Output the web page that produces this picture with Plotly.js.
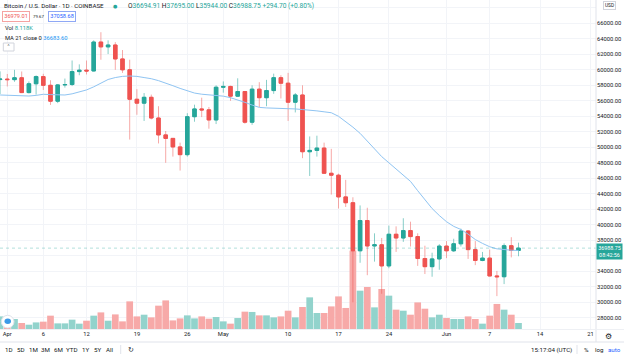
<!DOCTYPE html>
<html><head><meta charset="utf-8">
<script src="https://cdn.plot.ly/plotly-3.0.1.min.js"></script>
<style>html,body{margin:0;padding:0;background:#fff;} #chart{width:624px;height:358px;}</style>
</head><body><div id="chart"></div>
<script>
const dates = ['2021-03-31','2021-04-01','2021-04-02','2021-04-03','2021-04-04','2021-04-05','2021-04-06','2021-04-07','2021-04-08','2021-04-09','2021-04-10','2021-04-11','2021-04-12','2021-04-13','2021-04-14','2021-04-15','2021-04-16','2021-04-17','2021-04-18','2021-04-19','2021-04-20','2021-04-21','2021-04-22','2021-04-23','2021-04-24','2021-04-25','2021-04-26','2021-04-27','2021-04-28','2021-04-29','2021-04-30','2021-05-01','2021-05-02','2021-05-03','2021-05-04','2021-05-05','2021-05-06','2021-05-07','2021-05-08','2021-05-09','2021-05-10','2021-05-11','2021-05-12','2021-05-13','2021-05-14','2021-05-15','2021-05-16','2021-05-17','2021-05-18','2021-05-19','2021-05-20','2021-05-21','2021-05-22','2021-05-23','2021-05-24','2021-05-25','2021-05-26','2021-05-27','2021-05-28','2021-05-29','2021-05-30','2021-05-31','2021-06-01','2021-06-02','2021-06-03','2021-06-04','2021-06-05','2021-06-06','2021-06-07','2021-06-08','2021-06-09','2021-06-10','2021-06-11'];
const openP = [58740,58800,58730,58970,57060,58200,59120,58000,55950,58050,58100,59770,59950,59850,63580,62960,63200,61400,60000,56200,55700,56450,53780,51600,51150,50050,49050,53950,54950,54830,53530,57750,57850,56600,57200,53240,57500,56400,57320,58980,58270,55820,56750,49430,49600,49900,46650,46400,43600,42850,36650,40550,37270,37420,34700,38780,38300,39250,38480,35650,34600,35600,37250,36650,37550,39200,36800,35400,35700,33400,33300,37300,36694.91];
const highP = [59800,59460,60000,59780,58500,59280,59480,58650,58150,58870,61200,60700,61200,63800,64850,63800,63570,62550,61300,57500,57000,56800,55300,52100,51200,50600,54400,55500,56400,55200,58000,58500,57950,58900,57250,58000,58400,58700,59500,59300,59600,57000,58000,51400,51500,50600,49800,46600,45800,43550,42500,42200,38900,38300,39900,39800,40850,40400,38900,37300,36400,37500,37900,38200,39500,39300,37900,36500,36800,34050,37600,38400,37695];
const lowP = [56870,57850,58450,57000,56950,56800,57400,55470,55700,57700,57900,59300,59400,59800,61300,62030,60000,59600,51000,54200,53400,53600,50500,48000,48800,47000,48800,53300,53900,52400,53000,57050,56000,56500,53050,52900,55200,55300,56900,56300,53400,54500,48600,46300,48800,46600,43900,42100,42300,30000,35100,33500,35250,31100,34400,36500,37800,37200,34700,33650,33300,34200,35700,36500,37200,35600,34800,35300,33350,30800,32350,35800,35944];
const closeP = [58800,58730,58970,57060,58200,59120,58000,55950,58050,58100,59770,59950,59850,63580,62960,63200,61400,60000,56200,55700,56450,53780,51600,51150,50050,49050,53950,54950,54830,53530,57750,57850,56600,57200,53240,57500,56400,57320,58980,58270,55820,56750,49430,49600,49900,46650,46400,43600,42850,36650,40550,37270,37420,34700,38780,38300,39250,38480,35650,34600,35600,37250,36650,37550,39200,36800,35400,35700,33400,33300,37300,36694.91,36988.75];
const volumeK = [17.0,16.0,13.5,8.1,5.8,8.9,9.9,18.0,7.6,7.6,12.6,7.2,11.2,18.0,22.4,11.2,19.7,10.3,37.3,17.0,19.3,15.7,31.5,38.6,11.6,14.3,18.4,14.3,17.0,13.9,16.2,10.3,7.2,14.8,23.4,23.0,18.4,18.4,15.7,17.0,24.7,15.7,29.7,42.7,21.6,21.6,30.5,44.0,28.4,105.7,51.7,56.7,29.2,54.0,45.0,26.1,24.7,19.3,35.9,27.4,15.7,19.3,14.8,13.5,13.5,17.0,13.5,7.2,18.0,33.8,26.1,19.3,8.118];
const ma21 = [56750,56700,56680,56650,56620,56700,56840,56800,56760,56750,56900,57150,57400,57800,58250,58750,59000,59150,59200,59150,59000,58850,58600,58300,57950,57600,57250,57000,56850,56780,56740,56600,56400,56150,55800,55450,55150,55080,55050,55030,55030,54950,54870,54810,54700,54580,54460,54000,53350,52600,51800,50800,49800,48800,48000,47200,46450,45600,44400,43200,42100,41200,40400,39800,39400,38800,38100,37600,37170,36900,36780,36720,36683.6];
const tickDates = ['2021-04-01','2021-04-06','2021-04-12','2021-04-19','2021-04-26','2021-05-01','2021-05-10','2021-05-17','2021-05-24','2021-06-01','2021-06-07','2021-06-14','2021-06-21'];
const tickLabels = ['Apr','6','12','19','26','May','10','17','24','Jun','7','14','21'];
const priceTicks = [28000,30000,32000,34000,36000,38000,40000,42000,44000,46000,48000,50000,52000,54000,56000,58000,60000,62000,64000,66000,68000];
const hiddenPriceLabels = [36000, 68000]; // covered by the last-price tag and the USD tag
const lastPrice = 36988.75;

const UP = '#26a69a', DN = '#ef5350';
const bodyHigh = openP.map((o,i)=>Math.max(o,closeP[i]));
const bodyLow = openP.map((o,i)=>Math.min(o,closeP[i]));
const volColors = openP.map((o,i)=> closeP[i] >= o ? '#92d3cc' : '#f7a9a8');
const priceLabels = priceTicks.map(v => hiddenPriceLabels.includes(v) ? '' : v.toFixed(2));

const W = 596, H = 329;
const X = x => x / W, Y = y => (H - y) / H;
const FONT = 'Roboto, Arial, sans-serif';
const DARK = '#131722';

const data = [
  {type:'bar', x:dates, y:volumeK, marker:{color:volColors, line:{width:0}}, xaxis:'x', yaxis:'y', hoverinfo:'skip'},
  {type:'scatter', mode:'lines', x:dates, y:ma21, line:{color:'#8fc4f2', width:1}, xaxis:'x', yaxis:'y2', hoverinfo:'skip'},
  {type:'candlestick', x:dates, open:openP, high:highP, low:lowP, close:closeP, xaxis:'x', yaxis:'y2',
   increasing:{line:{color:'rgba(38,166,154,0.55)', width:1}, fillcolor:'rgba(38,166,154,0.55)'},
   decreasing:{line:{color:'rgba(239,83,80,0.5)', width:1}, fillcolor:'rgba(239,83,80,0.5)'}, hoverinfo:'skip'},
  {type:'candlestick', x:dates, open:openP, high:bodyHigh, low:bodyLow, close:closeP, xaxis:'x', yaxis:'y2',
   increasing:{line:{color:UP, width:1}, fillcolor:UP},
   decreasing:{line:{color:DN, width:1}, fillcolor:DN}, hoverinfo:'skip'}
];

function ann(x, y, text, o) {
  return Object.assign({xref:'paper', yref:'paper', x:X(x), y:Y(y), text:text, showarrow:false,
    xanchor:'left', yanchor:'middle', font:{family:FONT, size:6.2, color:DARK}}, o || {});
}
const teal = s => '<span style="color:#26a69a">' + s + '</span>';
const annotations = [
  ann(2, 6.5, 'Bitcoin / U.S. Dollar · 1D · COINBASE', {font:{family:FONT, size:6.2, color:DARK}}),
  ann(115.7, 6.5, '●', {xanchor:'center', font:{family:'DejaVu Sans', size:5, color:UP}}),
  ann(126, 6.5, 'O' + teal('36694.91') + ' H' + teal('37695.00') + ' L' + teal('35944.00') + ' C' + teal('36988.75') + ' ' + teal('+294.70 (+0.80%)'), {font:{family:FONT, size:6.6, color:DARK}}),
  ann(16.3, 17, '36979.01', {xanchor:'center', bordercolor:'#f5a3a1', borderwidth:1, borderpad:1.3, bgcolor:'#fff', font:{family:FONT, size:5.6, color:DN}}),
  ann(38.5, 17, '79.67', {xanchor:'center', font:{family:FONT, size:4.3, color:DARK}}),
  ann(61.8, 17, '37058.68', {xanchor:'center', bordercolor:'#8fa8f5', borderwidth:1, borderpad:1.3, bgcolor:'#fff', font:{family:FONT, size:5.6, color:'#2962ff'}}),
  ann(2.5, 28.3, 'Vol ' + teal('8.118K'), {font:{family:FONT, size:5.8, color:DARK}}),
  ann(2.5, 37.7, 'MA 21 close 0 <span style="color:#2196f3">36683.60</span>', {font:{family:FONT, size:5.8, color:DARK}}),
  ann(8.7, 46.8, '˄', {xanchor:'center', font:{family:'DejaVu Sans', size:6, color:DARK}}),
  ann(609.5, 6, 'USD', {xanchor:'center', bordercolor:'#d1d4dc', borderwidth:1, borderpad:1, bgcolor:'#fff', font:{family:FONT, size:4.8, color:DARK}}),
  ann(609, 251.3, '36988.75<br>08:42:56', {xanchor:'center', bgcolor:UP, borderpad:1.2, font:{family:FONT, size:5.4, color:'#fff'}}),
  ann(608.5, 336, '⚙', {xanchor:'center', font:{family:'DejaVu Sans', size:8, color:DARK}}),
  ann(8.8, 349.5, '1D', {xanchor:'center'}), ann(20.7, 349.5, '5D', {xanchor:'center'}),
  ann(33, 349.5, '1M', {xanchor:'center'}), ann(45.8, 349.5, '3M', {xanchor:'center'}),
  ann(58.6, 349.5, '6M', {xanchor:'center'}), ann(72, 349.5, 'YTD', {xanchor:'center'}),
  ann(85.7, 349.5, '1Y', {xanchor:'center'}), ann(97.6, 349.5, '5Y', {xanchor:'center'}),
  ann(110.4, 349.5, 'All', {xanchor:'center'}),
  ann(130.5, 349.5, '↻', {xanchor:'center', font:{family:'DejaVu Sans', size:7, color:DARK}}),
  ann(551.5, 349.5, '15:17:04 (UTC)', {xanchor:'center'}),
  ann(586.5, 349.5, '%', {xanchor:'center'}),
  ann(599, 349.5, 'log', {xanchor:'center'}),
  ann(614, 349.5, 'auto', {xanchor:'center', font:{family:FONT, size:6.2, color:'#2962ff'}})
];

const shapes = [
  {type:'line', xref:'paper', yref:'y2', x0:0, x1:1, y0:lastPrice, y1:lastPrice, line:{color:'rgba(38,166,154,0.35)', width:1, dash:'dot'}},
  {type:'line', xref:'paper', yref:'paper', x0:1, x1:1, y0:Y(0), y1:Y(342), line:{color:'#e0e3eb', width:1}},
  {type:'line', xref:'paper', yref:'paper', x0:0, x1:X(624), y0:Y(329.5), y1:Y(329.5), line:{color:'#eef0f4', width:1}},
  {type:'line', xref:'paper', yref:'paper', x0:0, x1:X(624), y0:Y(342), y1:Y(342), line:{color:'#e0e3eb', width:1}},
  {type:'line', xref:'paper', yref:'paper', x0:X(120.7), x1:X(120.7), y0:Y(345), y1:Y(354), line:{color:'#e0e3eb', width:1}},
  {type:'line', xref:'paper', yref:'paper', x0:X(577), x1:X(577), y0:Y(345), y1:Y(354), line:{color:'#e0e3eb', width:1}},
  {type:'rect', xref:'paper', yref:'paper', x0:X(3.3), x1:X(14), y0:Y(51), y1:Y(43), line:{color:'#d1d4dc', width:1}, fillcolor:'#fff'},
  {type:'circle', xref:'paper', yref:'paper', x0:X(1.3), x1:X(14), y0:Y(328), y1:Y(315.3), line:{color:'#e0e3eb', width:1}, fillcolor:'#fff'},
  {type:'circle', xref:'paper', yref:'paper', x0:X(4.5), x1:X(11), y0:Y(324), y1:Y(318.5), line:{width:0}, fillcolor:'#3c9ae8'}
];

const layout = {
  width:624, height:358, margin:{l:0, r:28, t:0, b:29},
  paper_bgcolor:'#fff', plot_bgcolor:'#fff', showlegend:false, bargap:0.07,
  font:{family:FONT, size:6, color:DARK},
  xaxis:{type:'date', range:['2021-03-30 23:40','2021-06-21 18:20'], tickvals:tickDates, ticktext:tickLabels,
    showgrid:true, gridcolor:'#f2f4f8', gridwidth:1, zeroline:false, showline:false, ticks:'',
    tickfont:{family:FONT, size:5.8, color:DARK}, rangeslider:{visible:false}, fixedrange:true},
  yaxis:{range:[0,444], visible:false, showgrid:false, fixedrange:true},
  yaxis2:{overlaying:'y', side:'right', range:[26556,69006], tickvals:priceTicks, ticktext:priceLabels,
    showgrid:true, gridcolor:'#f2f4f8', gridwidth:1, zeroline:false, showline:false, ticks:'',
    tickfont:{family:FONT, size:5.8, color:DARK}, fixedrange:true},
  annotations:annotations, shapes:shapes
};
Plotly.newPlot('chart', data, layout, {displayModeBar:false, staticPlot:true});
</script></body></html>
